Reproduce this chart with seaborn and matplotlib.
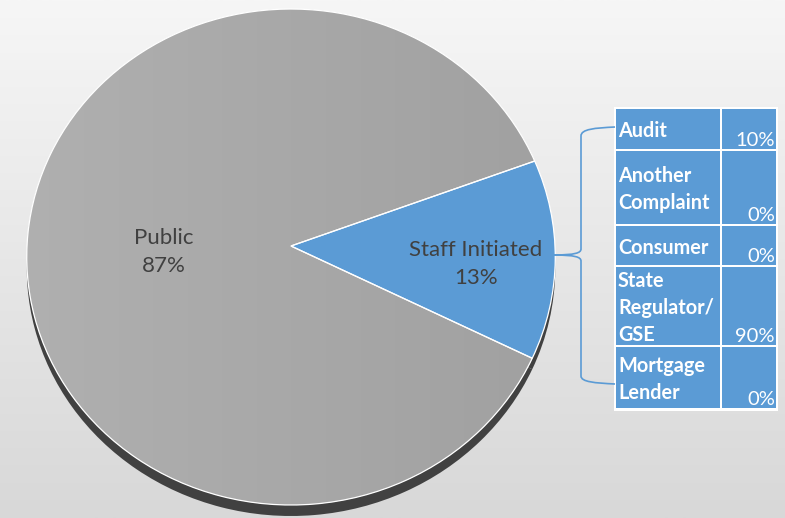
import numpy as np
import matplotlib
matplotlib.use("Agg")
import matplotlib.pyplot as plt
from matplotlib.colors import LinearSegmentedColormap
from matplotlib.patches import Rectangle, PathPatch
from matplotlib.path import Path
from matplotlib.transforms import Transform, ScaledTranslation
import seaborn as sns

# Complaint sources and the breakdown of staff-initiated complaints
source_labels = ["Staff Initiated", "Public"]
source_shares = [13, 87]
staff_categories = ["Audit", "Another\nComplaint", "Consumer",
                    "State\nRegulator/\nGSE", "Mortgage\nLender"]
staff_shares = [10, 0, 0, 90, 0]

sns.set_theme(style="white")
plt.rcParams['font.family'] = ['Lato', 'DejaVu Sans']


class TiltTransform(Transform):
    """Perspective foreshortening of a flat disc seen slightly from above."""
    input_dims = output_dims = 2
    is_separable = False
    has_inverse = False

    def __init__(self, k):
        super().__init__()
        self.k = k

    def transform_non_affine(self, values):
        values = np.asarray(values, dtype=float)
        d = 1.0 + self.k * values[:, 1]
        return np.column_stack([values[:, 0] / d, values[:, 1] / d])


W, H = 785, 518
fig = plt.figure(figsize=(W / 100, H / 100), dpi=100)

# soft vertical background gradient
bg = fig.add_axes([0, 0, 1, 1], zorder=0)
grad = np.linspace(0, 1, 256).reshape(-1, 1)
bg_cmap = LinearSegmentedColormap.from_list("bg", ["#f6f6f6", "#d8d8d8"])
bg.imshow(grad, cmap=bg_cmap, aspect="auto", extent=[0, 1, 0, 1])
bg.axis("off")

# pie axes: apex at pixel (291, 246); 264 px per unit across, 247.5 px per unit down
cx, cy = 291, 246
sx, sy, L = 264, 247.5, 1.15
pie_ax = fig.add_axes([(cx - L * sx) / W, (H - cy - L * sy) / H,
                       2 * L * sx / W, 2 * L * sy / H], zorder=1)
tilt = TiltTransform(0.0444)
start = -26.4

# side wall of the disc, dropped a few pixels below the top face
rim, _ = pie_ax.pie(source_shares, colors=["#414141", "#414141"], startangle=start,
                    wedgeprops=dict(linewidth=0))
rim_tr = tilt + pie_ax.transData + ScaledTranslation(0, -11 / 100, fig.dpi_scale_trans)
for w in rim:
    w.set_transform(rim_tr)

# top face
faces, _ = pie_ax.pie(source_shares, colors=["#5b9bd5", "#a6a6a6"], startangle=start,
                      wedgeprops=dict(linewidth=0))
for w in faces:
    w.set_transform(tilt + pie_ax.transData)

# gentle left-to-right shading on the large slice
shade = np.linspace(0, 1, 256).reshape(1, -1)
gray_cmap = LinearSegmentedColormap.from_list("gray", ["#b0b0b0", "#a0a0a0"])
img = pie_ax.imshow(shade, cmap=gray_cmap, aspect="auto",
                    extent=[-1.05, 1.05, -1.1, 1.1], zorder=faces[1].get_zorder() + 0.1)
img.set_clip_path(faces[1])

# white outlines over the faces
outlines, _ = pie_ax.pie(source_shares, startangle=start,
                         wedgeprops=dict(facecolor="none", edgecolor="white",
                                         linewidth=0.9))
for w in outlines:
    w.set_transform(tilt + pie_ax.transData)
    w.set_zorder(5)

pie_ax.set_xlim(-L, L)
pie_ax.set_ylim(-L, L)
pie_ax.set_aspect("auto")
pie_ax.axis("off")

# overlay axes in pixel coordinates for text, table and brace
ov = fig.add_axes([0, 0, 1, 1], zorder=2)
ov.set_xlim(0, W)
ov.set_ylim(H, 0)
ov.axis("off")

label_pos = {"Staff Initiated": (476, 264), "Public": (164, 252)}
for lab, share in zip(source_labels, source_shares):
    x, y = label_pos[lab]
    ov.text(x, y, f"{lab}\n{share}%", ha="center", va="center",
            fontsize=16, color="#404040", linespacing=1.5)

row_heights = [42, 75, 41, 80, 63]
table_top = 109
col_label = (616, 720)
col_value = (722, 776)
blue = "#5b9bd5"

total_h = sum(row_heights)
ov.add_patch(Rectangle((col_label[0] - 2, table_top - 2),
                       col_value[1] - col_label[0] + 4, total_h + 3,
                       facecolor="white", edgecolor="none"))
y0 = table_top
for cat, share, h in zip(staff_categories, staff_shares, row_heights):
    for (xa, xb) in (col_label, col_value):
        ov.add_patch(Rectangle((xa, y0), xb - xa, h - 2,
                               facecolor=blue, edgecolor="none"))
    ov.text(col_label[0] + 2, y0 + h / 2 + 1, cat, ha="left", va="center",
            fontsize=14.3, fontweight="bold", color="white", linespacing=1.45)
    ov.text(col_value[1] - 1, y0 + h - 5, f"{share}%", ha="right",
            va="baseline", fontsize=14.5, color="white")
    y0 += h

# brace linking the slice to the table
verts = [(615, 127), (595, 128), (581, 129), (581, 136),
         (581, 249),
         (581, 253), (575, 255), (553, 255),
         (575, 255), (581, 257), (581, 261),
         (581, 376),
         (581, 382), (595, 383), (615, 384)]
codes = [Path.MOVETO, Path.CURVE4, Path.CURVE4, Path.CURVE4,
         Path.LINETO,
         Path.CURVE4, Path.CURVE4, Path.CURVE4,
         Path.CURVE4, Path.CURVE4, Path.CURVE4,
         Path.LINETO,
         Path.CURVE4, Path.CURVE4, Path.CURVE4]
ov.add_patch(PathPatch(Path(verts, codes), facecolor="none",
                       edgecolor=blue, linewidth=1.2))

fig.savefig("out.png", dpi=100)
